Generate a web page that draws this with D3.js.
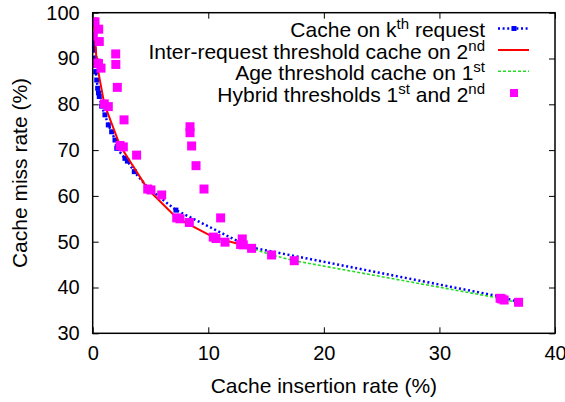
<!DOCTYPE html>
<html><head><meta charset="utf-8">
<script src="https://cdn.jsdelivr.net/npm/d3@7"></script>
<style>body{margin:0;background:#fff}svg{display:block;font-family:"Liberation Sans",Arial,sans-serif}</style>
</head><body><svg id="c" width="565" height="402"></svg>
<script>
const xTicks=[0,10,20,30,40];
const yTicks=[30,40,50,60,70,80,90,100];
const kthRequest=[[0.05,93.7],[0.08,92.8],[0.12,91.9],[0.2,90.0],[0.24,88.5],[0.26,87.1],[0.35,85.3],[0.43,83.5],[0.5,82.5],[0.57,81.7],[0.78,79.6],[1.06,77.7],[1.35,75.5],[1.64,74.0],[1.93,72.2],[2.08,70.4],[2.79,68.2],[3.0,67.6],[3.6,65.3],[4.76,61.8],[7.2,56.9],[13.6,48.8],[35.3,38.0],[36.67,36.95]];
const interRequest=[[0.1,98.0],[0.35,89.0],[1.0,80.1],[2.36,71.0],[4.76,61.5],[7.27,55.2],[10.43,51.0],[12.8,49.4]];
const ageThreshold=[[12.8,49.4],[13.75,48.55],[15.48,47.1],[17.44,45.85],[35.25,37.64],[35.6,37.27],[36.85,36.77]];
const hybrid=[[0.05,98.0],[0.2,98.0],[0.52,96.4],[0.05,94.9],[0.57,93.7],[1.99,91.0],[2.0,88.7],[0.35,89.0],[0.5,88.9],[0.72,87.9],[2.13,83.7],[1.0,80.1],[1.35,79.5],[2.71,76.6],[2.36,71.0],[2.65,70.7],[3.8,68.9],[4.76,61.5],[5.04,61.3],[5.97,60.2],[7.27,55.2],[7.55,55.0],[8.36,54.2],[8.42,75.1],[8.42,73.8],[8.56,70.9],[8.94,66.6],[9.63,61.5],[11.07,55.2],[10.43,51.0],[10.67,50.7],[11.45,49.9],[12.94,50.6],[12.8,49.4],[13.03,49.3],[13.75,48.55],[15.48,47.1],[17.44,45.85],[35.25,37.64],[35.4,37.5],[35.6,37.27],[36.85,36.77]];
const legendLabels=["Cache on k|th| request","Inter-request threshold cache on 2|nd|","Age threshold cache on 1|st|","Hybrid thresholds 1|st| and 2|nd|"];

const svg=d3.select("#c");
const L=92.7,R=555,T=12.7,B=333.3;
const x=d3.scaleLinear().domain([0,40]).range([L,R]);
const y=d3.scaleLinear().domain([30,100]).range([B,T]);
const FONT="Liberation Sans, Arial, sans-serif";

const axB=d3.axisBottom(x).tickValues(xTicks).tickSize(-6).tickPadding(13);
const axT=d3.axisTop(x).tickValues(xTicks).tickSize(-6).tickFormat("");
const axL=d3.axisLeft(y).tickValues(yTicks).tickSize(-6).tickPadding(13);
const axR=d3.axisRight(y).tickValues(yTicks).tickSize(-6).tickFormat("");
function style(g){g.select(".domain").remove();g.selectAll("line").attr("stroke","#000").attr("stroke-width",1);g.selectAll("text").attr("font-size",20).attr("fill","#000").attr("font-family",FONT);}
svg.append("g").attr("transform",`translate(0,${B})`).call(axB).call(style);
svg.append("g").attr("transform",`translate(0,${T})`).call(axT).call(style);
svg.append("g").attr("transform",`translate(${L},0)`).call(axL).call(style);
svg.append("g").attr("transform",`translate(${R},0)`).call(axR).call(style);

svg.append("clipPath").attr("id","pc").append("rect").attr("x",L).attr("y",T).attr("width",R-L).attr("height",B-T);
const plot=svg.append("g").attr("clip-path","url(#pc)");
const line=d3.line().x(d=>x(d[0])).y(d=>y(d[1]));

const BLUE="#0000ff",RED="#ff0000",GREEN="#22dd22",MAG="#ff00ff";
plot.append("path").datum(kthRequest).attr("d",line).attr("fill","none").attr("stroke",BLUE).attr("stroke-width",2.5).attr("stroke-dasharray","2,2.6");
plot.selectAll(".bm").data(kthRequest).join("rect").attr("x",d=>x(d[0])-2.5).attr("y",d=>y(d[1])-2.5).attr("width",5).attr("height",5).attr("fill",BLUE);
plot.append("path").datum(interRequest).attr("d",line).attr("fill","none").attr("stroke",RED).attr("stroke-width",2);
plot.append("path").datum(ageThreshold).attr("d",line).attr("fill","none").attr("stroke",GREEN).attr("stroke-width",1.6).attr("stroke-dasharray","3,2");
plot.selectAll(".mm").data(hybrid).join("rect").attr("x",d=>x(d[0])-4.5).attr("y",d=>y(d[1])-4.5).attr("width",9).attr("height",9).attr("fill",MAG);

svg.append("rect").attr("x",L).attr("y",T).attr("width",R-L).attr("height",B-T).attr("fill","none").attr("stroke","#000").attr("stroke-width",1.5);

svg.append("text").attr("x",(L+R)/2).attr("y",393).attr("text-anchor","middle").attr("font-size",21).attr("font-family",FONT).text("Cache insertion rate (%)");
svg.append("text").attr("transform","translate(27,173) rotate(-90)").attr("text-anchor","middle").attr("font-size",21).attr("font-family",FONT).text("Cache miss rate (%)");

const rowsY=[28.5,50,71.3,93];
legendLabels.forEach((lab,i)=>{
  const t=svg.append("text").attr("x",485).attr("y",rowsY[i]+8.5).attr("text-anchor","end").attr("font-size",21).attr("font-family",FONT);
  lab.split("|").forEach((part,j)=>{
    if(j%2===1){t.append("tspan").attr("font-size",15).attr("dy",-8).text(part);}
    else{t.append("tspan").attr("dy",j>0?8:0).text(part);}
  });
});
const lx0=498,lx1=529;
svg.append("line").attr("x1",lx0).attr("x2",lx1).attr("y1",rowsY[0]).attr("y2",rowsY[0]).attr("stroke",BLUE).attr("stroke-width",2.5).attr("stroke-dasharray","2,2.6");
svg.append("rect").attr("x",514-2.5).attr("y",rowsY[0]-2.5).attr("width",5).attr("height",5).attr("fill",BLUE);
svg.append("line").attr("x1",lx0).attr("x2",lx1).attr("y1",rowsY[1]).attr("y2",rowsY[1]).attr("stroke",RED).attr("stroke-width",2);
svg.append("line").attr("x1",lx0).attr("x2",lx1).attr("y1",rowsY[2]).attr("y2",rowsY[2]).attr("stroke",GREEN).attr("stroke-width",1.6).attr("stroke-dasharray","3,2");
svg.append("rect").attr("x",514-4).attr("y",rowsY[3]-4).attr("width",8).attr("height",8).attr("fill",MAG);
</script></body></html>
